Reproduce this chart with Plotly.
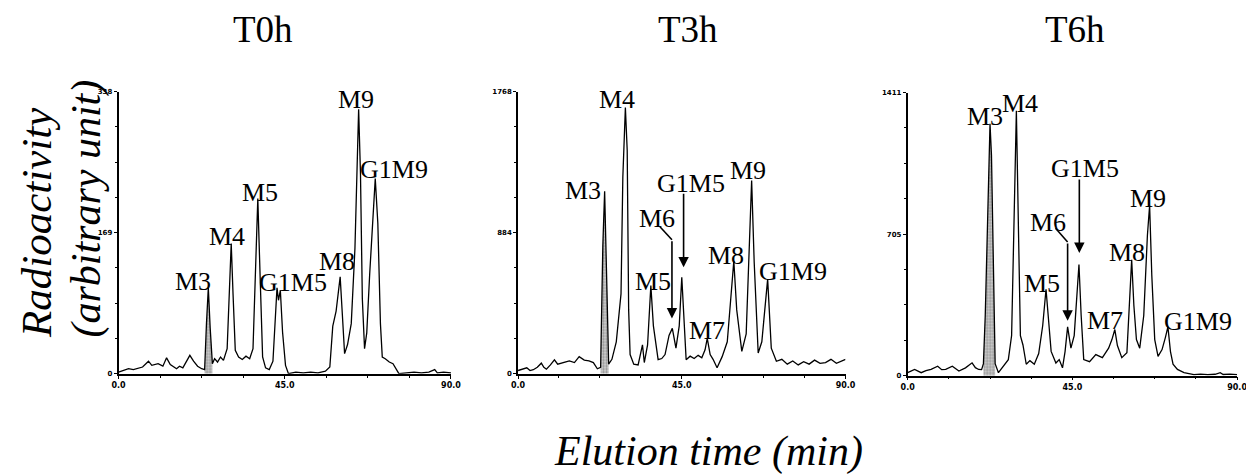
import numpy as np
import plotly.graph_objects as go

# ---------------- data ----------------
PANEL_TITLES = ["T0h", "T3h", "T6h"]
Y_MAX = [338, 1768, 1411]
Y_MID_LABEL = ["169", "884", "705"]
X_TICK_VALUES = [0, 45, 90]
X_TICK_LABELS = ["0.0", "45.0", "90.0"]

T0_TIME = [0, 1.5, 2.7, 4, 5.4, 6.5, 8.1, 9, 10.7, 12, 13, 14, 15.7, 16.5, 17.4, 18.3, 19.3, 20.3,
           21.4, 22.5, 23.3, 23.8, 24.3, 24.8, 25.4, 26, 26.8, 27.6, 28.4, 29.4, 30, 30.5, 31, 31.6,
           32.5, 33.5, 34.5, 35.5, 36.4, 37.1, 37.7, 38.3, 39, 39.8, 40.8, 41.8, 42.4, 42.9, 43.3,
           43.8, 44.4, 45.2, 46, 48, 50, 52, 54, 56, 57.2, 58, 58.9, 59.5, 60, 60.6, 61.2, 62, 63,
           64, 64.5, 65, 65.5, 66, 66.6, 67.2, 68, 68.8, 69.5, 70.2, 70.9, 71.4, 72.2, 73.3, 74.3,
           75.9, 78, 80, 82, 84, 85.6, 86.3, 88, 90]
T0_SIGNAL = [2, 4, 6, 5, 7, 8, 15, 10, 12, 9, 19, 11, 6, 9, 7, 14, 22, 15,
             9, 6, 5, 60, 103, 55, 12, 18, 14, 20, 16, 30, 110, 156, 95, 28,
             20, 17, 21, 18, 30, 130, 210, 120, 20, 7, 5, 15, 70, 103, 88,
             100, 50, 10, 0, 2, 1, 2, 1, 3, 8, 57, 75, 95, 116, 70, 24, 35, 60,
             150, 250, 317, 240, 90, 30, 49, 120, 190, 234, 180, 60, 20, 18, 14, 12,
             0, 1, 2, 1, 2, 5, 1, 2, 1]

T3_TIME = [0, 1.2, 2.4, 3.3, 4.2, 5.3, 6.4, 7.1, 7.8, 8.9, 10, 10.9, 11.8, 13, 14.1, 15.5, 16.8,
           18.2, 19.5, 20.7, 21.8, 22.7, 23.3, 23.8, 24.3, 24.9, 25.8, 27, 28.3, 28.8, 29.5, 30,
           30.4, 30.8, 31.8, 33, 34.2, 34.7, 35.6, 36.5, 37.2, 38.5, 39.5, 40.4, 41.5, 42.4, 43.4,
           44.3, 45, 45.6, 46.2, 47.3, 48.4, 49.5, 50.5, 51.4, 52, 52.8, 53.6, 54.7, 56.1, 57.5,
           58.5, 59.3, 60.1, 61.5, 62.7, 63.6, 64.2, 64.9, 66, 67, 67.9, 68.6, 69.6, 71, 72.5, 74,
           75.5, 77, 78.5, 80, 81.5, 83, 84.5, 86, 87.5, 89, 90]
T3_SIGNAL = [20, 30, 37, 20, 25, 40, 66, 40, 28, 55, 87, 60, 66, 75, 80, 70, 107,
             85, 80, 70, 31, 40, 800, 1143, 600, 60, 90, 200, 500, 1230, 1669, 1400,
             400, 120, 60, 55, 181, 70, 180, 552, 300, 88, 95, 120, 240, 284, 160,
             300, 604, 350, 88, 110, 95, 115, 100, 150, 222, 120, 90, 37, 107, 200,
             488, 706, 400, 140, 250, 800, 1211, 700, 130, 200, 450, 593, 160, 78, 90, 60,
             80, 55, 75, 60, 85, 65, 70, 90, 65, 80, 90]

T6_TIME = [0, 1.9, 3.7, 5, 6.4, 8.2, 9.3, 10.4, 12.2, 14, 15.8, 17.6, 18.5, 19.4, 20.2, 20.7, 21.2,
           21.7, 22.2, 22.5, 22.9, 23.3, 23.6, 23.9, 24.8, 26.1, 27.5, 28.4, 29, 29.7, 30.3, 30.8,
           31.5, 32.4, 33.4, 34.6, 35.8, 36.9, 37.8, 38.5, 39.2, 40.5, 41.4, 42.3, 43, 43.7, 44.6,
           45.5, 46.2, 46.8, 47.4, 48.1, 49.7, 51.4, 53.2, 54.9, 55.8, 56.6, 57.3, 58.5, 59.9, 60.6,
           61.2, 61.8, 62.5, 63.4, 64.5, 65.5, 66.1, 66.7, 67.5, 68.4, 69.5, 70.4, 71.1, 71.8, 72.5,
           73.7, 75.5, 78.2, 80, 82, 84, 85.4, 86.2, 88, 90]
T6_SIGNAL = [15, 31, 15, 25, 31, 47, 30, 31, 47, 23, 39, 64, 40, 31, 30, 60, 300,
             660, 1150, 1256, 1100, 650, 250, 60, 15, 47, 80, 200, 676, 1321, 700, 200,
             153, 57, 75, 57, 110, 250, 431, 250, 121, 63, 80, 39, 120, 243, 137,
             200, 400, 554, 300, 80, 70, 105, 90, 137, 180, 230, 150, 90, 115, 350,
             578, 350, 180, 137, 300, 700, 848, 500, 180, 96, 130, 190, 243, 120, 57,
             31, 15, 5, 8, 5, 7, 15, 6, 8, 5]

# shaded (M3) peak span for each run, minutes
SHADE_SPAN = [(23.3, 25.4), (22.7, 24.9), (20.7, 23.9)]

# peak labels: text, x (min), y (signal) of label centre
LABELS = [
    [("M3", 20.05, 110.5), ("M4", 29.3, 164), ("M5", 38.4, 217), ("G1M5", 47.3, 109),
     ("M8", 59.2, 135), ("M9", 64.3, 329), ("G1M9", 74.7, 245)],
    [("M3", 17.9, 1150), ("M4", 27.2, 1721), ("M5", 37.1, 578), ("M6", 38.3, 970),
     ("G1M5", 47.4, 1193), ("M7", 51.8, 269), ("M8", 57.2, 742), ("M9", 63.3, 1273),
     ("G1M9", 75.7, 640)],
    [("M3", 21.2, 1293), ("M4", 30.6, 1357), ("M5", 36.8, 461), ("M6", 38.3, 762),
     ("G1M5", 48.4, 1034), ("M7", 53.8, 274), ("M8", 59.8, 615), ("M9", 65.6, 882),
     ("G1M9", 79.4, 272)],
]
# arrows: list of polyline points (x, y), arrow head at last point
ARROWS = [
    [],
    [[(39.0, 921), (42.3, 840), (42.3, 346)], [(45.5, 1137), (45.5, 667)]],
    [[(40.4, 735), (43.7, 666), (43.7, 274)], [(46.9, 985), (46.9, 612)]],
]

TIMES = [T0_TIME, T3_TIME, T6_TIME]
SIGNALS = [T0_SIGNAL, T3_SIGNAL, T6_SIGNAL]

# ---------------- layout geometry ----------------
# the page body has an 8px margin, so the figure is drawn 8px smaller and
# reference pixel positions are shifted by that margin
OFF = 8
W, H = 1254 - OFF, 476 - OFF


def px(x):
    return (x - OFF) / W


def py(y):
    return 1 - (y - OFF) / H


X_DOMAINS = [(px(113), px(450)), (px(518), px(850)), (px(913), px(1247))]
Y_DOMAINS = [(py(376), py(89)), (py(376), py(89)), (py(378), py(90))]
SERIF = "Liberation Serif, Times New Roman, serif"

fig = go.Figure()
layout = dict(
    width=W, height=H, margin=dict(l=0, r=0, t=0, b=0),
    paper_bgcolor="white", plot_bgcolor="white", showlegend=False,
)
annotations = []
shapes = []

for i in range(3):
    xa = "x" if i == 0 else f"x{i+1}"
    ya = "y" if i == 0 else f"y{i+1}"
    t = np.array(TIMES[i], dtype=float)
    s = np.array(SIGNALS[i], dtype=float)

    a, b = SHADE_SPAN[i]
    m = (t >= a) & (t <= b)
    fig.add_trace(go.Scatter(
        x=t[m], y=s[m], xaxis=xa, yaxis=ya, mode="lines", line=dict(width=0),
        fill="tozeroy", fillcolor="#c8c8c8",
        fillpattern=dict(shape=".", fgcolor="#555555", bgcolor="#d0d0d0", size=3, solidity=0.45),
        hoverinfo="skip",
    ))
    fig.add_trace(go.Scatter(
        x=t, y=s, xaxis=xa, yaxis=ya, mode="lines",
        line=dict(color="black", width=1.3), hoverinfo="skip",
    ))

    ymax = Y_MAX[i]
    layout[f"xaxis{'' if i == 0 else i+1}"] = dict(
        domain=list(X_DOMAINS[i]), anchor=ya, range=[0, 90],
        showline=True, linecolor="black", linewidth=1.6, showgrid=False, zeroline=False,
        tickmode="array", tickvals=X_TICK_VALUES, ticktext=X_TICK_LABELS,
        ticks="outside", ticklen=3, tickwidth=1, tickcolor="black",
        minor=dict(tickmode="array", tickvals=[11.25 * k for k in range(9)],
                   ticks="outside", ticklen=2, tickcolor="black"),
        tickfont=dict(family="DejaVu Sans", size=8, color="black", weight="bold"),
        ticklabelstandoff=0,
    )
    layout[f"yaxis{'' if i == 0 else i+1}"] = dict(
        domain=list(Y_DOMAINS[i]), anchor=xa, range=[0, ymax],
        showline=True, linecolor="black", linewidth=1.6, showgrid=False, zeroline=False,
        tickmode="array", tickvals=[0, ymax / 2, ymax], ticktext=["0", Y_MID_LABEL[i], str(ymax)],
        ticks="outside", ticklen=3, tickwidth=1, tickcolor="black",
        minor=dict(tickmode="array", tickvals=[ymax * k / 8 for k in range(9)],
                   ticks="outside", ticklen=2, tickcolor="black"),
        tickfont=dict(family="DejaVu Sans", size=7, color="black", weight="bold"),
        ticklabelstandoff=0,
    )

    for txt, lx, ly in LABELS[i]:
        annotations.append(dict(
            x=lx, y=ly, xref=xa, yref=ya, text=txt, showarrow=False,
            xanchor="center", yanchor="middle",
            font=dict(family=SERIF, size=26, color="black"),
        ))
    for pts in ARROWS[i]:
        for (x0, y0), (x1, y1) in zip(pts[:-2], pts[1:-1]):
            shapes.append(dict(type="line", xref=xa, yref=ya, x0=x0, y0=y0, x1=x1, y1=y1,
                               line=dict(color="black", width=1.6)))
        (bx, by), (tx, ty) = pts[-2], pts[-1]
        annotations.append(dict(
            x=tx, y=ty, ax=bx, ay=by, xref=xa, yref=ya, axref=xa, ayref=ya,
            text="", showarrow=True, arrowhead=2, arrowsize=1.3, arrowwidth=1.6,
            arrowcolor="black",
        ))

# panel titles
for cx, title in zip([259, 690, 1083], PANEL_TITLES):
    annotations.append(dict(x=px(cx), y=py(26), xref="paper", yref="paper", text=title,
                            showarrow=False, xanchor="center", yanchor="middle",
                            font=dict(family=SERIF, size=37, color="black")))

# axis titles
annotations.append(dict(x=px(30), y=py(222), xref="paper", yref="paper",
                        text="<i>Radioactivity</i>", textangle=-90, showarrow=False,
                        xanchor="center", yanchor="middle",
                        font=dict(family=SERIF, size=43, color="black")))
annotations.append(dict(x=px(81), y=py(208), xref="paper", yref="paper",
                        text="<i>(arbitrary unit)</i>", textangle=-90, showarrow=False,
                        xanchor="center", yanchor="middle",
                        font=dict(family=SERIF, size=42, color="black")))
annotations.append(dict(x=px(711), y=py(455), xref="paper", yref="paper",
                        text="<i>Elution time (min)</i>", showarrow=False,
                        xanchor="center", yanchor="middle",
                        font=dict(family=SERIF, size=42, color="black")))

layout["annotations"] = annotations
layout["shapes"] = shapes
fig.update_layout(**layout)
fig.write_html("out.html")
